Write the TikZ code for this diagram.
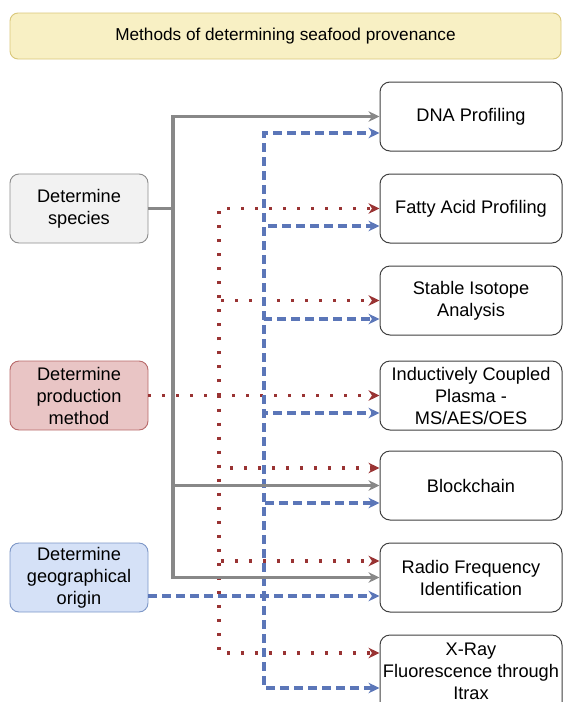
\documentclass[tikz,border=0pt]{standalone}
\usepackage{fontspec}
\setmainfont{Liberation Sans}
\usetikzlibrary{arrows.meta}
\definecolor{titlefill}{HTML}{F8F0C4}
\definecolor{titledraw}{HTML}{D9C77A}
\definecolor{spfill}{HTML}{F2F2F2}
\definecolor{spdraw}{HTML}{8C8C8C}
\definecolor{prfill}{HTML}{E9C5C5}
\definecolor{prdraw}{HTML}{B86A6A}
\definecolor{gefill}{HTML}{D5E1F7}
\definecolor{gedraw}{HTML}{7D97C7}
\definecolor{redln}{HTML}{993333}
\definecolor{blueln}{HTML}{5B76B8}
\definecolor{grayln}{HTML}{888888}
\tikzset{
  x=1pt, y=1pt,
  txt/.style={font=\fontsize{18.2}{22}\selectfont, align=center, text=black},
  leftbox/.style={txt, rounded corners=9pt, minimum width=138pt, minimum height=69pt, inner sep=0pt, line width=0.9pt},
  rightbox/.style={txt, draw=black!75, rounded corners=10pt, minimum width=182pt, minimum height=69pt, inner sep=0pt, line width=1pt, fill=white},
  tip/.style={-{Stealth[length=11pt,width=10.5pt,inset=3.5pt]}},
  grayedge/.style={draw=grayln, line width=3.1pt},
  rededge/.style={draw=redln, line width=3.1pt, dash pattern=on 3pt off 11pt},
  blueedge/.style={draw=blueln, line width=3.1pt, dash pattern=on 8.5pt off 5.5pt},
}
\begin{document}
\begin{tikzpicture}
\useasboundingbox (0,0) rectangle (563,-702);
% title
\node[txt, font=\fontsize{17.2}{21}\selectfont, draw=titledraw, fill=titlefill, rounded corners=8pt, minimum width=551pt, minimum height=46pt, inner sep=0pt, line width=0.9pt] (title) at (285.5,-36) {Methods of determining seafood provenance};
% left boxes
\node[leftbox, draw=spdraw, fill=spfill] (species) at (79,-208.5) {Determine\\species};
\node[leftbox, draw=prdraw, fill=prfill] (production) at (79,-395.5) {Determine\\production\\method};
\node[leftbox, draw=gedraw, fill=gefill] (geo) at (79,-577.5) {Determine\\geographical\\origin};
% right boxes
\node[rightbox] (dna) at (471,-116.5) {DNA Profiling};
\node[rightbox] (fatty) at (471,-208.5) {Fatty Acid Profiling};
\node[rightbox] (stable) at (471,-300.5) {Stable Isotope\\Analysis};
\node[rightbox] (icp) at (471,-395.5) {Inductively Coupled\\Plasma -\\MS/AES/OES};
\node[rightbox] (block) at (471,-485.5) {Blockchain};
\node[rightbox] (rfid) at (471,-577.5) {Radio Frequency\\Identification};
\node[rightbox, minimum height=78pt] (xray) at (471,-674) {};
\node[txt] (xraytext) at (471,-671) {X-Ray\\Fluorescence through\\Itrax};
% junctions
\coordinate (gJ) at (173,-208.5);
\coordinate (rJ) at (219,-395.5);
\coordinate (bJ) at (264,-596);
% red dotted connectors (production method)
\draw[rededge, tip] (production.east) -- (rJ) |- (fatty.west);
\draw[rededge, tip] (production.east) -- (rJ) |- (stable.west);
\draw[rededge, tip] (production.east) -- (icp.west);
\draw[rededge, tip] (production.east) -- (rJ) |- ([yshift=17.5pt]block.west);
\draw[rededge, tip] (production.east) -- (rJ) |- ([yshift=16.5pt]rfid.west);
\draw[rededge, tip] (production.east) -- (rJ) |- ([yshift=21pt]xray.west);
% blue dashed connectors (geographical origin)
\draw[blueedge, tip] ([yshift=-18.5pt]geo.east) -- (bJ) |- ([yshift=-16.5pt]dna.west);
\draw[blueedge, tip] ([yshift=-18.5pt]geo.east) -- (bJ) |- ([yshift=-17.5pt]fatty.west);
\draw[blueedge, tip] ([yshift=-18.5pt]geo.east) -- (bJ) |- ([yshift=-18.5pt]stable.west);
\draw[blueedge, tip] ([yshift=-18.5pt]geo.east) -- (bJ) |- ([yshift=-17.5pt]icp.west);
\draw[blueedge, tip] ([yshift=-18.5pt]geo.east) -- (bJ) |- ([yshift=-17.5pt]block.west);
\draw[blueedge, tip] ([yshift=-18.5pt]geo.east) -- ([yshift=-18.5pt]rfid.west);
\draw[blueedge, tip] ([yshift=-18.5pt]geo.east) -- (bJ) |- ([yshift=-14pt]xray.west);
% gray solid connectors (species)
\draw[grayedge, tip] (species.east) -- (gJ) |- (dna.west);
\draw[grayedge, tip] (species.east) -- (gJ) |- (block.west);
\draw[grayedge, tip] (species.east) -- (gJ) |- (rfid.west);
\end{tikzpicture}
\end{document}
